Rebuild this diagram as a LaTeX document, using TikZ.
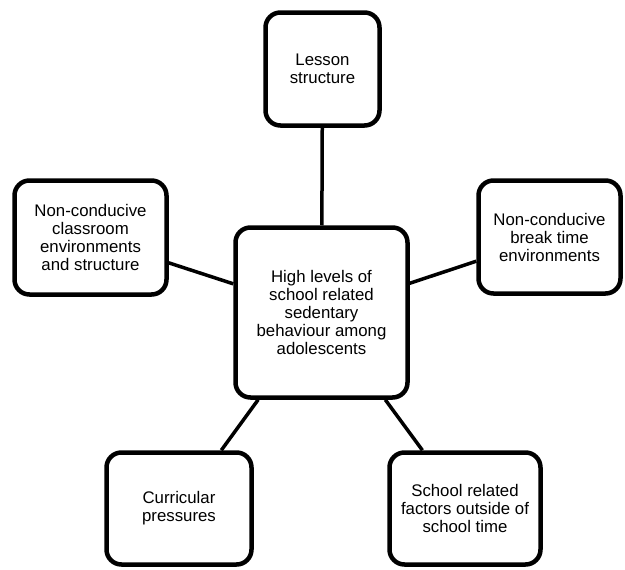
\documentclass[tikz,border=0pt]{standalone}
\usepackage{fontspec}
\setmainfont{Liberation Sans}
\usepackage{xcolor}
\usetikzlibrary{shadows}
\definecolor{ink}{HTML}{000000}
\definecolor{shade}{HTML}{B4B4B4}
\tikzset{
  box/.style={draw=ink, line width=4.5pt, rounded corners=15pt, fill=white,
    align=center, inner sep=2pt,
    font=\fontsize{16.8}{18}\selectfont,
    drop shadow={shadow xshift=1.2pt, shadow yshift=-1.8pt, fill=shade, opacity=0.7}},
  link/.style={draw=ink, line width=3.5pt}
}
\begin{document}
\begin{tikzpicture}[x=1pt,y=-1pt]
  \useasboundingbox (0,0) rectangle (625,570);

  % boxes, placed at pixel centres
  \node[box, minimum width=172pt, minimum height=170pt] (hub) at (321.5,312.5)
    {High levels of\\school related\\sedentary\\behaviour among\\adolescents};
  \node[box, minimum width=114pt, minimum height=113pt] (lesson) at (322.5,69)
    {Lesson\\structure};
  \node[box, minimum width=152pt, minimum height=114pt] (classroom) at (90.5,237.5)
    {Non-conducive\\classroom\\environments\\and structure};
  \node[box, minimum width=142pt, minimum height=113pt] (breaktime) at (549.5,237)
    {Non-conducive\\break time\\environments};
  \node[box, minimum width=145pt, minimum height=112pt] (curric) at (179,508.5)
    {Curricular\\pressures};
  \node[box, minimum width=151pt, minimum height=112pt] (outside) at (465,508.5)
    {School related\\factors outside of\\school time};

  % spokes
  \draw[link] (hub) -- (lesson);
  \draw[link] (hub) -- (classroom);
  \draw[link] (hub) -- (breaktime);
  \draw[link] (hub) -- (curric);
  \draw[link] (hub) -- (outside);
\end{tikzpicture}
\end{document}
